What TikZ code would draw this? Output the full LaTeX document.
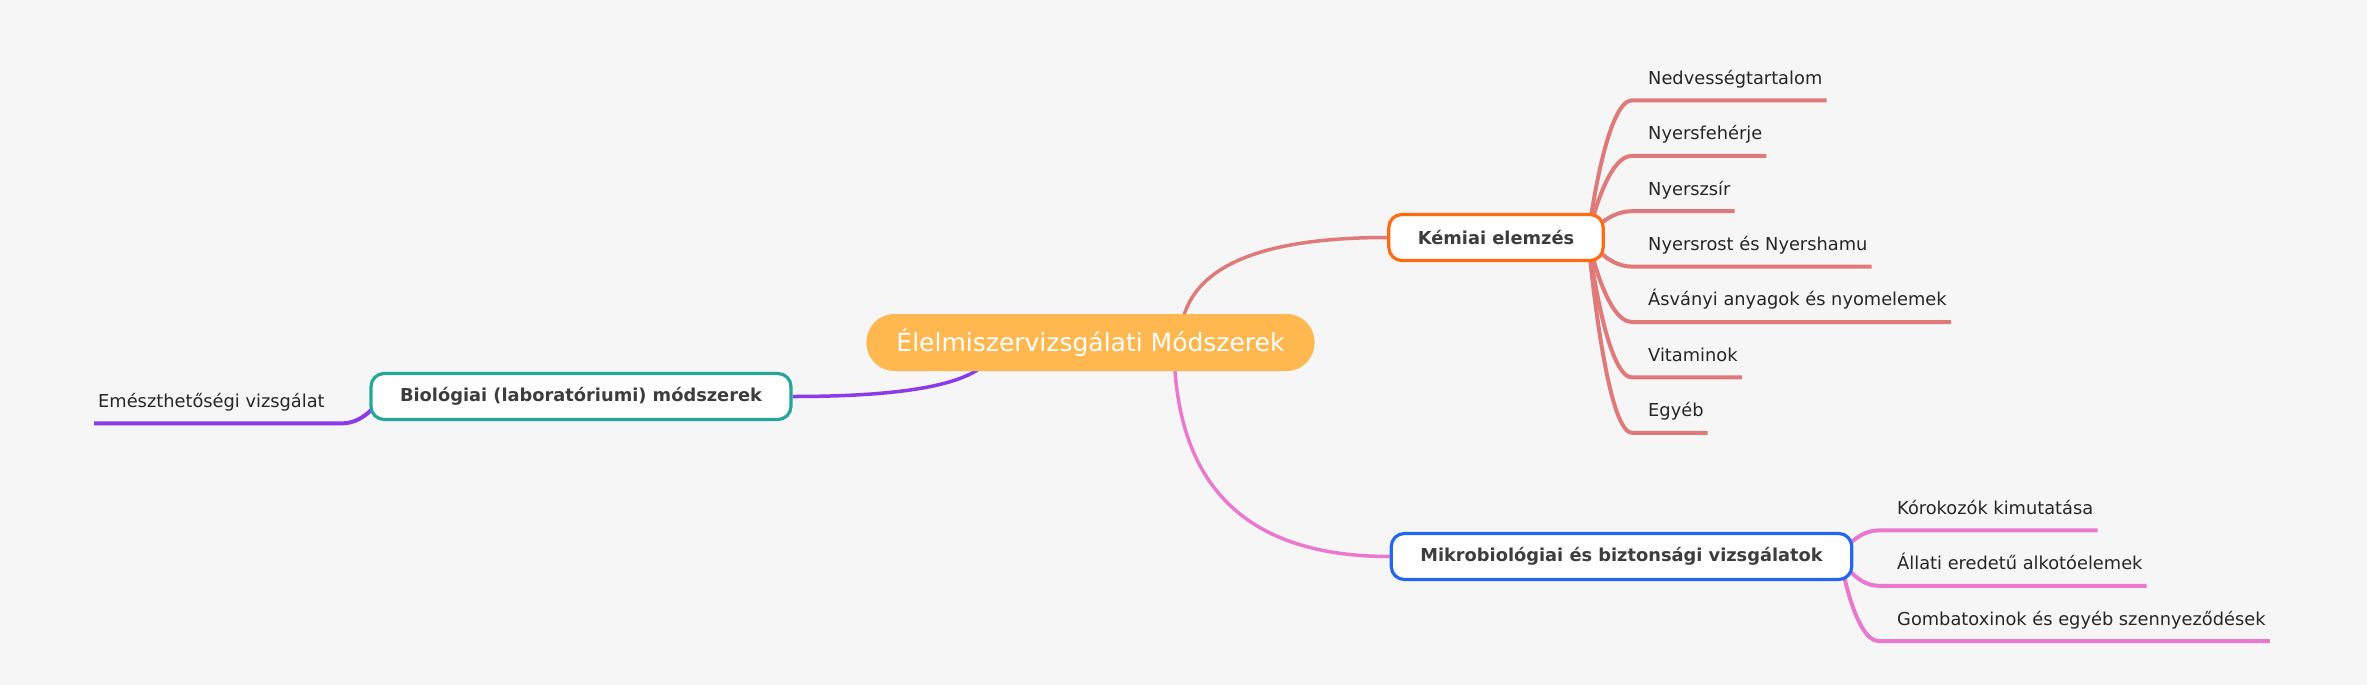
\documentclass[tikz,border=0pt]{standalone}
\usepackage{fontspec}
\setmainfont{DejaVu Sans}
\usepackage{tikz}
\usetikzlibrary{positioning,backgrounds}
\definecolor{canvas}{HTML}{F6F6F6}
\definecolor{rootfill}{HTML}{FFB74F}
\definecolor{kemline}{HTML}{E07A7A}
\definecolor{kemborder}{HTML}{FF6A12}
\definecolor{mikline}{HTML}{EB78CF}
\definecolor{mikborder}{HTML}{2466EE}
\definecolor{bioline}{HTML}{8B3BEA}
\definecolor{bioborder}{HTML}{26A69A}
\definecolor{topictext}{HTML}{3D3D3D}
\definecolor{leaftext}{HTML}{262626}
\pgfdeclarelayer{canvaslayer}
\pgfdeclarelayer{background}
\pgfsetlayers{canvaslayer,background,main}

\begin{document}
\begin{tikzpicture}[
    x=1pt,
    y=-1pt,
    node distance=406pt,
    root/.style={
		rectangle,
		rounded corners=28pt,
		fill=rootfill,
		text=white,
		font=\fontsize{25}{30}\selectfont,
		minimum height=57pt,
		inner xsep=30pt
	},
	topic/.style={
		rectangle,
		rounded corners=13pt,
		draw,
		line width=3.2pt,
		fill=white,
		text=topictext,
		font=\bfseries\fontsize{17.8}{21}\selectfont,
		minimum height=46pt,
		inner xsep=29pt
	},
	leaf/.style={
		inner xsep=4pt,
		inner ysep=0pt,
		text height=13pt,
		text depth=16pt,
		text=leaftext,
		font=\fontsize{17.8}{21}\selectfont
	},
	branch/.style={
	  line width=3.5pt
    },
	twig/.style={
	  line width=4pt
    }
  ]

% // canvas
\begin{pgfonlayer}{canvaslayer}
 \fill [canvas] (0,0) rectangle (2367,685);
\end{pgfonlayer}
\useasboundingbox (0,0) rectangle (2367,685);

 \node [root] (root) at (1090.5,342.5) {Élelmiszervizsgálati Módszerek};

 \node [topic, draw=kemborder, right of=root, xshift=-0.5pt, yshift=105pt] (kem) {Kémiai elemzés};
 \node [topic, draw=mikborder, right of=root, xshift=125pt, yshift=-214pt] (mik) {Mikrobiológiai és biztonsági vizsgálatok};
 \node [topic, draw=bioborder, left of=root, xshift=-103.5pt, yshift=-54pt] (bio) {Biológiai (laboratóriumi) módszerek};

% // Kemiai elemzes
 \node [leaf, anchor=north west] (nedv) at (1644,71) {Nedvességtartalom};
 \node [leaf, below=26pt of nedv.south west, anchor=north west] (feh) {Nyersfehérje};
 \node [leaf, below=26pt of feh.south west, anchor=north west] (zsir) {Nyerszsír};
 \node [leaf, below=26pt of zsir.south west, anchor=north west] (rost) {Nyersrost és Nyershamu};
 \node [leaf, below=26pt of rost.south west, anchor=north west] (asv) {Ásványi anyagok és nyomelemek};
 \node [leaf, below=26pt of asv.south west, anchor=north west] (vit) {Vitaminok};
 \node [leaf, below=26pt of vit.south west, anchor=north west] (egyeb) {Egyéb};

% // Mikrobiologiai vizsgalatok
 \node [leaf, anchor=north west] (kor) at (1893,501) {Kórokozók kimutatása};
 \node [leaf, below=26pt of kor.south west, anchor=north west] (allati) {Állati eredetű alkotóelemek};
 \node [leaf, below=26pt of allati.south west, anchor=north west] (gomba) {Gombatoxinok és egyéb szennyeződések};

% // Biologiai modszerek
 \node [leaf, anchor=north west] (emesz) at (94,394) {Emészthetőségi vizsgálat};

 \coordinate (kemhub) at ([xshift=92pt]kem.center);
 \coordinate (mikhub) at ([xshift=218.5pt]mik.center);
 \coordinate (biohub) at ([xshift=-199pt]bio.center);

\begin{pgfonlayer}{background}
 \draw [branch, kemline] ([xshift=89.5pt]root.center) .. controls +(0,-70) and +(-140,0) .. (kem.west);
 \draw [branch, mikline] ([xshift=83.5pt]root.center) .. controls +(0,143.3) and +(-144,0) .. (mik.west);
 \draw [branch, bioline] ([xshift=-95.5pt]root.center) .. controls +(0,36.7) and +(135.3,0) .. (bio.east);

 \draw [twig, kemline] (kemhub) .. controls (kemhub) and ([xshift=-39pt]nedv.south west) .. ([xshift=-12pt]nedv.south west) -- (nedv.south east);
 \draw [twig, kemline] (kemhub) .. controls (kemhub) and ([xshift=-39pt]feh.south west) .. ([xshift=-12pt]feh.south west) -- (feh.south east);
 \draw [twig, kemline] (kemhub) .. controls (kemhub) and ([xshift=-39pt]zsir.south west) .. ([xshift=-12pt]zsir.south west) -- (zsir.south east);
 \draw [twig, kemline] (kemhub) .. controls (kemhub) and ([xshift=-39pt]rost.south west) .. ([xshift=-12pt]rost.south west) -- (rost.south east);
 \draw [twig, kemline] (kemhub) .. controls (kemhub) and ([xshift=-39pt]asv.south west) .. ([xshift=-12pt]asv.south west) -- (asv.south east);
 \draw [twig, kemline] (kemhub) .. controls (kemhub) and ([xshift=-39pt]vit.south west) .. ([xshift=-12pt]vit.south west) -- (vit.south east);
 \draw [twig, kemline] (kemhub) .. controls (kemhub) and ([xshift=-39pt]egyeb.south west) .. ([xshift=-12pt]egyeb.south west) -- (egyeb.south east);

 \draw [twig, mikline] (mikhub) .. controls (mikhub) and ([xshift=-39pt]kor.south west) .. ([xshift=-14pt]kor.south west) -- (kor.south east);
 \draw [twig, mikline] (mikhub) .. controls (mikhub) and ([xshift=-39pt]allati.south west) .. ([xshift=-14pt]allati.south west) -- (allati.south east);
 \draw [twig, mikline] (mikhub) .. controls (mikhub) and ([xshift=-39pt]gomba.south west) .. ([xshift=-14pt]gomba.south west) -- (gomba.south east);

 \draw [twig, bioline] (biohub) .. controls (biohub) and ([xshift=38pt]emesz.south east) .. ([xshift=13pt]emesz.south east) -- (emesz.south west);
\end{pgfonlayer}

\end{tikzpicture}
\end{document}
